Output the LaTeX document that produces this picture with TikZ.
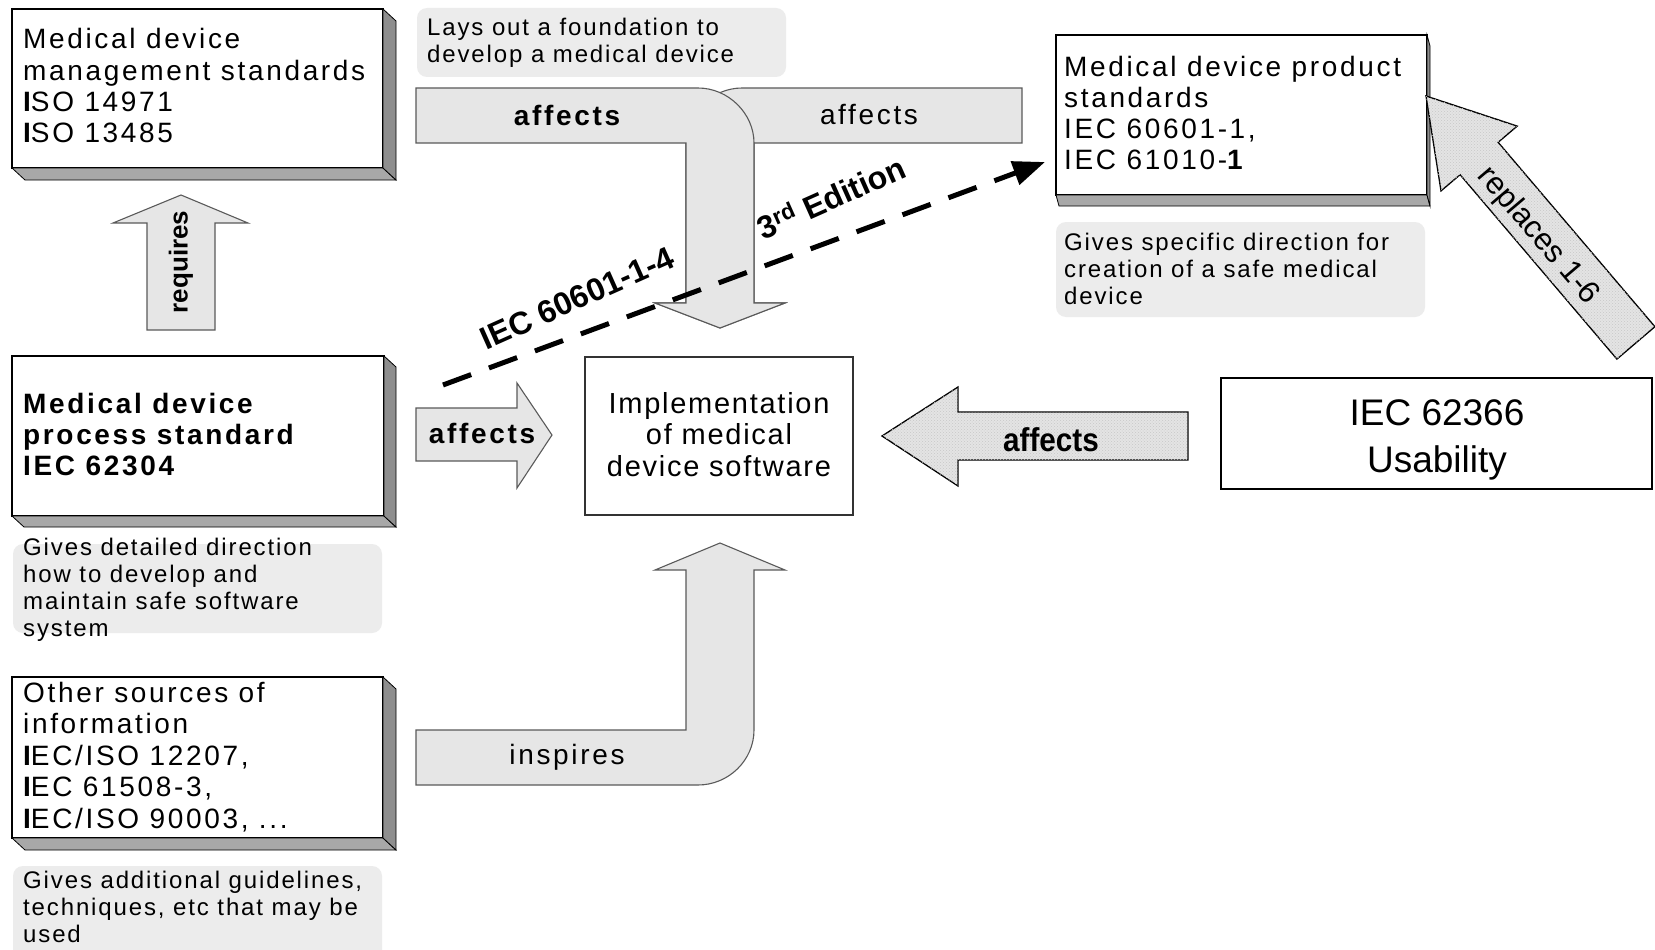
\documentclass[tikz,border=0pt]{standalone}
\usepackage{fontspec}
\setmainfont{Liberation Sans}
\newfontfamily\boxfont[LetterSpace=9.5]{Liberation Sans}
\newfontfamily\notefont[LetterSpace=7.8]{Liberation Sans}
\newfontfamily\implfont[LetterSpace=6]{Liberation Sans}
\usetikzlibrary{arrows.meta,calc,patterns}

\definecolor{arrowfill}{HTML}{E6E6E6}
\definecolor{dotfill}{HTML}{E4E4E4}
\definecolor{notefill}{HTML}{ECECEC}
\definecolor{sidedark}{HTML}{8E8E8E}
\definecolor{sidelight}{HTML}{A8A8A8}
\definecolor{arrowline}{HTML}{5A5A5A}

\tikzset{
  stdbox/.style={draw=black, line width=1.5pt, fill=white, inner sep=0pt, outer sep=0pt, anchor=north west},
  notebox/.style={fill=notefill, rounded corners=10pt, inner sep=0pt, outer sep=0pt, anchor=north west},
  blockarrow/.style={draw=arrowline, line width=1.1pt, fill=arrowfill, line join=miter},
  dotarrow/.style={draw=black, line width=1.3pt, fill=dotfill, line join=miter,
    postaction={pattern=crosshatch dots, pattern color=black!22}},
  boxtext/.style={anchor=base west, inner sep=0pt, font=\boxfont\fontsize{28}{31.3}\selectfont},
  notetext/.style={anchor=base west, inner sep=0pt, font=\notefont\fontsize{24}{27}\selectfont},
  arrowlabel/.style={inner sep=0pt, font=\boxfont\fontsize{28}{28}\selectfont},
  dashlabel/.style={inner sep=0pt, rotate=24, font=\bfseries\fontsize{32}{32}\selectfont},
  dasharrow/.style={line width=5pt, dash pattern=on 30pt off 19pt, -{Triangle[length=32pt,width=24pt]}}
}

% 3D slab under and right of a box: node name, depth x, depth y
\newcommand\slab[3]{%
  \filldraw[fill=sidelight, draw=black, line width=0.8pt]
    (#1.south west) -- ++(#2,#3) -- ($(#1.south east)+(#2,#3)$) -- (#1.south east) -- cycle;
  \filldraw[fill=sidedark, draw=black, line width=0.8pt]
    (#1.north east) -- ++(#2,#3) -- ($(#1.south east)+(#2,#3)$) -- (#1.south east) -- cycle;
}

\begin{document}
\begin{tikzpicture}[x=1pt, y=-1pt]
\path[use as bounding box, fill=white] (0,0) rectangle (1655,950);

% ---------- standards boxes ----------
\node[stdbox, minimum width=371pt, minimum height=159pt] (mgmt) at (12,9) {};
\slab{mgmt}{13}{12}
\node[stdbox, minimum width=372pt, minimum height=160pt] (proc) at (12,356) {};
\slab{proc}{12}{11}
\node[stdbox, minimum width=371pt, minimum height=161pt] (other) at (12,677) {};
\slab{other}{13}{12}
\node[stdbox, minimum width=371pt, minimum height=160pt] (prod) at (1056,35) {};
\slab{prod}{3}{11}
\node[stdbox, draw=black!80, line width=1.4pt, minimum width=268pt, minimum height=158pt] (impl) at (585,357) {};
\node[stdbox, line width=2.4pt, minimum width=431pt, minimum height=111pt] (usab) at (1221,378) {};

% ---------- explanatory notes ----------
\node[notebox, minimum width=369pt, minimum height=69pt] (laysnote) at (417,8) {};
\node[notebox, minimum width=369pt, minimum height=95pt] (specnote) at (1056,222) {};
\node[notebox, minimum width=369pt, minimum height=89pt] (detnote) at (13,544) {};
\node[notebox, minimum width=369pt, minimum height=95pt] (addnote) at (13,866) {};

% ---------- box texts ----------
\node[boxtext] (mgmttext) at (23,49)
  {\parbox[t]{360pt}{Medical device\\management standards\\{\bfseries I}SO 14971\\{\bfseries I}SO 13485}};
\node[boxtext, font=\boxfont\bfseries\fontsize{28}{31}\selectfont] (proctext) at (23,413)
  {\parbox[t]{360pt}{Medical device\\process standard\\IEC 62304}};
\node[boxtext, font=\boxfont\fontsize{28}{31.5}\selectfont] (othertext) at (23,702)
  {\parbox[t]{360pt}{Other sources of\\information\\{\bfseries I}EC/ISO 12207,\\{\bfseries I}EC 61508-3,\\{\bfseries I}EC/ISO 90003, ...}};
\node[boxtext, font=\boxfont\fontsize{28}{31}\selectfont] (prodtext) at (1064,77)
  {\parbox[t]{360pt}{Medical device product\\standards\\IEC 60601-1,\\IEC 61010-{\bfseries 1}}};
\node[anchor=base, inner sep=0pt, font=\implfont\fontsize{29}{31.5}\selectfont] (impltext) at (719,413)
  {\parbox[t]{262pt}{\centering Implementation\\of medical\\device software}};
\node[anchor=base, inner sep=0pt, font=\fontsize{37}{47}\selectfont] (usabtext) at (1437,425)
  {\parbox[t]{420pt}{\centering IEC 62366\\Usability}};

% ---------- note texts ----------
\node[notetext] (laystext) at (427,36) {\parbox[t]{360pt}{Lays out a foundation to\\develop a medical device}};
\node[notetext] (spectext) at (1064,250) {\parbox[t]{360pt}{Gives specific direction for\\creation of a safe medical\\device}};
\node[notetext] (dettext) at (23,555) {\parbox[t]{360pt}{Gives detailed direction\\how to develop and\\maintain safe software\\system}};
\node[notetext] (addtext) at (23,888) {\parbox[t]{360pt}{Gives additional guidelines,\\techniques, etc that may be\\used}};

% ---------- block arrows ----------
% requires
\draw[blockarrow] (147,330) -- (147,223) -- (113,223) -- (181,195) -- (248,223) -- (215,223) -- (215,330) -- cycle;
\node[inner sep=0pt, rotate=90, font=\bfseries\fontsize{26}{26}\selectfont] (reqlabel) at (181,262) {requires};

% merging T arrow: right arm first, left arm over it
\draw[blockarrow] (1022,88) -- (742,88) .. controls (711.6,88) and (686,113.6) .. (686,143)
  -- (686,303) -- (655,303) -- (720,328) -- (785,303) -- (754,303) -- (754,143) -- (1022,143) -- cycle;
\draw[blockarrow] (416,88) -- (698,88) .. controls (728.4,88) and (754,113.6) .. (754,143)
  -- (754,303) -- (785,303) -- (720,328) -- (655,303) -- (686,303) -- (686,143) -- (416,143) -- cycle;
\node[arrowlabel, font=\boxfont\bfseries\fontsize{28}{28}\selectfont] (taffl) at (567,115) {affects};
\node[arrowlabel] (taffr) at (869,115) {affects};

% affects: process standard -> implementation
\draw[blockarrow] (416,408) -- (517,408) -- (517,383) -- (552,435) -- (517,488) -- (517,461) -- (416,461) -- cycle;
\node[arrowlabel, font=\boxfont\bfseries\fontsize{28}{28}\selectfont] (smallaff) at (482,433) {affects};

% inspires
\draw[blockarrow] (416,730) -- (686,730) -- (686,570) -- (655,570) -- (720,543) -- (785,570) -- (754,570)
  -- (754,730) .. controls (754,760.4) and (728.4,785) .. (698,785) -- (416,785) -- cycle;
\node[arrowlabel] (insplabel) at (567,757) {inspires};

% affects: usability -> implementation
\draw[dotarrow] (1188,412) -- (958,412) -- (958,387) -- (882,436) -- (958,486) -- (958,460) -- (1188,460) -- cycle;
\node[inner sep=0pt, font=\bfseries\fontsize{33}{33}\selectfont] (usabaff) at (1051,440) {\scalebox{0.9}[1]{affects}};

% replaces 1-6
\draw[dotarrow] (1426,96) -- (1517.2,126.1) -- (1498.1,142.3) -- (1654.9,326.7) -- (1616.9,359.1)
  -- (1460.1,174.7) -- (1441.0,190.9) -- cycle;
\node[inner sep=0pt, rotate=-49.6, font=\fontsize{31}{31}\selectfont] (repllabel) at (1538,236) {replaces 1-6};

% ---------- dashed edition arrow ----------
\coordinate (dstart) at (443,385);
\draw[dasharrow] (dstart) -- ($(prod.north west)+(-11,127)$);
\node[dashlabel] (edlabel1) at (577,298) {IEC 60601-1-4};
\node[dashlabel] (edlabel2) at (831,197) {3\textsuperscript{rd} Edition};

\end{tikzpicture}
\end{document}
